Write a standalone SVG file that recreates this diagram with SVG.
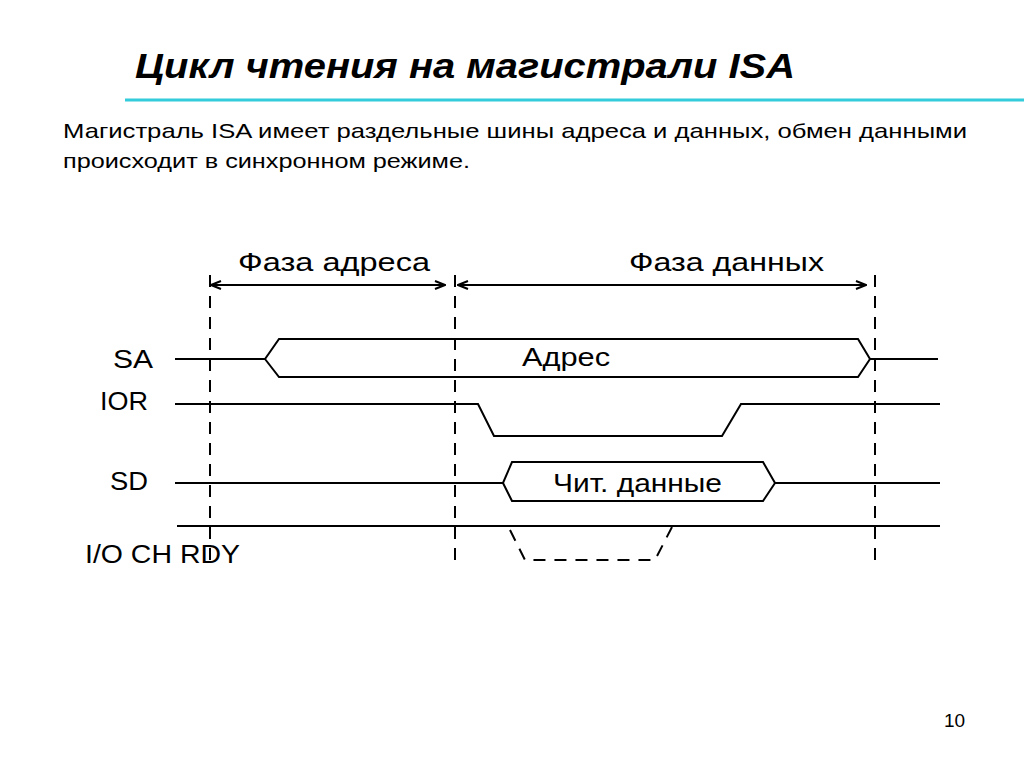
<svg xmlns="http://www.w3.org/2000/svg" width="1024" height="767" viewBox="0 0 1024 767">
<style>
.w{fill:none;stroke:#000;stroke-width:2}
.d{fill:none;stroke:#000;stroke-width:2;stroke-dasharray:12,9}
.t{font-family:"Liberation Sans",Arial,sans-serif;fill:#000}
.l{font-family:"Liberation Sans",Arial,sans-serif;font-size:26px;fill:#000}
</style>
<defs>
<marker id="a" markerWidth="12" markerHeight="10" refX="11" refY="5" orient="auto-start-reverse" markerUnits="userSpaceOnUse"><path d="M1,1 L11,5 L1,9" fill="none" stroke="#000" stroke-width="2"/></marker>
</defs>
<rect width="1024" height="767" fill="#fff"/>
<text class="t" x="135" y="78" font-size="35" font-weight="bold" font-style="italic" textLength="660" lengthAdjust="spacingAndGlyphs">Цикл чтения на магистрали ISA</text>
<line x1="125" y1="100" x2="1024" y2="100" stroke="#33ccdd" stroke-width="3"/>
<text class="t" x="63" y="138" font-size="21" textLength="904" lengthAdjust="spacingAndGlyphs">Магистраль ISA имеет раздельные шины адреса и данных, обмен данными</text>
<text class="t" x="63" y="168" font-size="21" textLength="407" lengthAdjust="spacingAndGlyphs">происходит в синхронном режиме.</text>
<text class="t" x="944" y="727" font-size="19">10</text>
<g id="phases">
<line class="d" x1="210" y1="275" x2="210" y2="562"/>
<line class="d" x1="455" y1="275" x2="455" y2="562"/>
<line class="d" x1="875" y1="275" x2="875" y2="562"/>
<text class="l" x="238" y="271" textLength="192" lengthAdjust="spacingAndGlyphs">Фаза адреса</text>
<text class="l" x="629" y="271" textLength="195" lengthAdjust="spacingAndGlyphs">Фаза данных</text>
<line class="w" x1="211" y1="285" x2="445" y2="285" marker-start="url(#a)" marker-end="url(#a)"/>
<line class="w" x1="458" y1="285" x2="866" y2="285" marker-start="url(#a)" marker-end="url(#a)"/>
</g>
<g id="SA">
<text class="l" x="113" y="368" textLength="40" lengthAdjust="spacingAndGlyphs">SA</text>
<path class="w" d="M175,359 H265 L279,339 H858 L870,359 L858,377 H279 L265,359 M870,359 H938"/>
<text class="l" x="522" y="366" textLength="88" lengthAdjust="spacingAndGlyphs">Адрес</text>
</g>
<g id="IOR">
<text class="l" x="100" y="410" textLength="48" lengthAdjust="spacingAndGlyphs">IOR</text>
<path class="w" d="M175,404 H478 L494,436 H722 L741,404 H940"/>
</g>
<g id="SD">
<text class="l" x="110" y="490" textLength="38" lengthAdjust="spacingAndGlyphs">SD</text>
<path class="w" d="M175,483 H503 L512,462 H763 L775,483 L763,501 H512 L503,483 M775,483 H940"/>
<text class="l" x="553" y="492" textLength="169" lengthAdjust="spacingAndGlyphs">Чит. данные</text>
</g>
<g id="IOCHRDY">
<text class="l" x="85" y="563" textLength="155" lengthAdjust="spacingAndGlyphs">I/O CH RDY</text>
<line class="w" x1="177" y1="526" x2="940" y2="526"/>
<path class="d" d="M510,530 L525,560 H655 L672,527"/>
</g>
</svg>
